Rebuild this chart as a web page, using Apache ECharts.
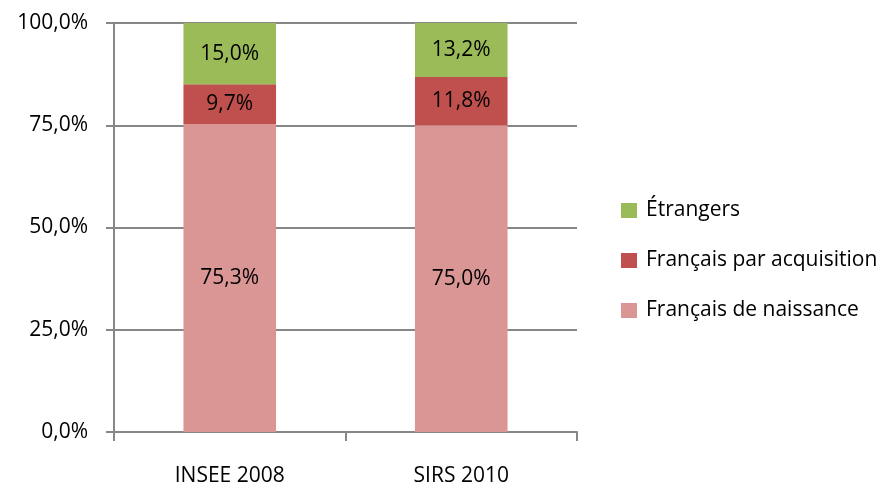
<!DOCTYPE html>
<html>
<head>
<meta charset="utf-8">
<script src="https://cdn.jsdelivr.net/npm/echarts@6/dist/echarts.min.js"></script>
<style>
  html, body { margin: 0; padding: 0; background: #fff; }
  #chart { width: 896px; height: 486px; }
</style>
</head>
<body>
<div id="chart"></div>
<script>
// categories and values
var categories = ['INSEE 2008', 'SIRS 2010'];
var naissance = [75.3, 75.0];
var acquisition = [9.7, 11.8];
var etrangers = [15.0, 13.2];
var yTicks = [0, 25, 50, 75, 100];

var fontFamily = "'Open Sans', 'Liberation Sans', sans-serif";
var gridColor = '#878787';

function fmt(v) {
  return v.toFixed(1).replace('.', ',') + '%';
}

function barSeries(name, data, color) {
  return {
    name: name,
    type: 'bar',
    stack: 'total',
    barWidth: '40%',
    data: data,
    itemStyle: { color: color },
    label: {
      show: true,
      position: 'inside',
      color: '#000',
      fontFamily: fontFamily,
      fontSize: 21,
      formatter: function (p) { return fmt(p.value); }
    }
  };
}

var chart = echarts.init(document.getElementById('chart'));

chart.setOption({
  animation: false,
  grid: { left: 114, right: 319, top: 23, bottom: 54, outerBoundsMode: 'none' },
  legend: {
    orient: 'vertical',
    left: 616,
    top: 195,
    itemWidth: 16,
    itemHeight: 15,
    itemGap: 29,
    icon: 'rect',
    data: ['Étrangers', 'Français par acquisition', 'Français de naissance'],
    textStyle: { fontFamily: fontFamily, fontSize: 21, color: '#000', padding: [0, 0, 0, 4] }
  },
  xAxis: {
    type: 'category',
    data: categories,
    axisLine: { lineStyle: { color: gridColor, width: 2 } },
    axisTick: { show: true, length: 9, lineStyle: { color: gridColor, width: 2 } },
    axisLabel: { color: '#000', fontFamily: fontFamily, fontSize: 21, margin: 34 }
  },
  yAxis: {
    type: 'value',
    min: yTicks[0],
    max: yTicks[yTicks.length - 1],
    interval: 25,
    axisLine: { show: true, lineStyle: { color: gridColor, width: 2 } },
    axisTick: { show: true, length: 8, lineStyle: { color: gridColor, width: 2 } },
    splitLine: { lineStyle: { color: gridColor, width: 2 } },
    axisLabel: {
      color: '#000',
      fontFamily: fontFamily,
      fontSize: 21,
      margin: 26,
      formatter: function (v) { return fmt(v); }
    }
  },
  series: [
    barSeries('Français de naissance', naissance, '#D99694'),
    barSeries('Français par acquisition', acquisition, '#C0504D'),
    barSeries('Étrangers', etrangers, '#9BBB59')
  ]
});
</script>
</body>
</html>
